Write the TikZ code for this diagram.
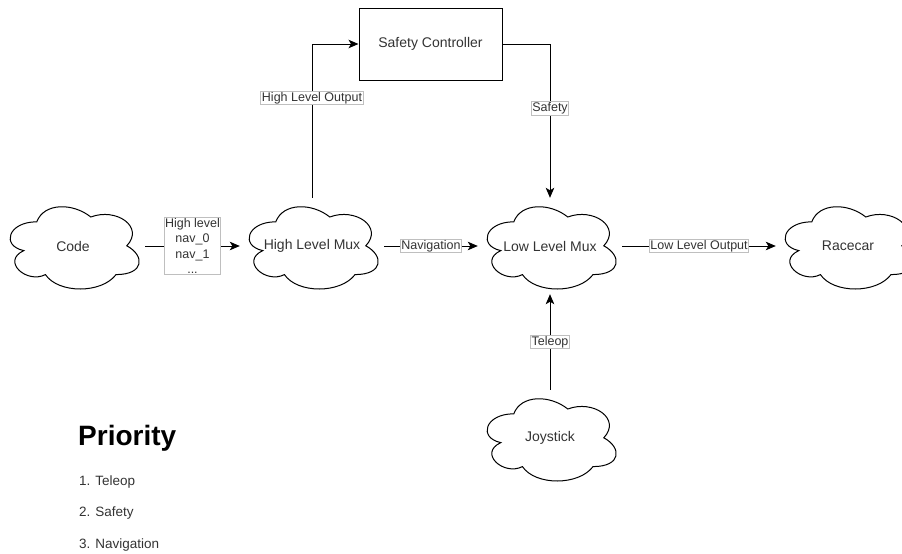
\documentclass[tikz,border=0pt]{standalone}
\usepackage{fontspec}
\setmainfont{Liberation Sans}
\usetikzlibrary{arrows.meta,positioning}

\tikzset{
  cloudbox/.style={rectangle, minimum width=144pt, minimum height=96pt, inner sep=0pt,
    font=\fontsize{14}{16}\selectfont, text=black!80},
  ctrlbox/.style={draw, rectangle, line width=1pt, minimum width=143pt, minimum height=72pt,
    font=\fontsize{14}{16}\selectfont, text=black!80},
  lbl/.style={draw=black!25, fill=white, inner sep=1pt, text=black!80,
    font=\fontsize{12.5}{15}\selectfont},
  link/.style={-{Stealth[length=10pt,width=8.5pt,inset=2.5pt]}, line width=1pt},
  listitem/.style={anchor=west, inner sep=0pt, text=black!80, font=\fontsize{13.5}{16}\selectfont},
  puff/.pic={
    \draw[line width=1pt] (0.25,0.25) .. controls (0.05,0.25) and (0,0.5) .. (0.16,0.55)
      .. controls (0,0.66) and (0.18,0.9) .. (0.31,0.8)
      .. controls (0.4,1) and (0.7,1) .. (0.8,0.8)
      .. controls (1,0.8) and (1,0.6) .. (0.875,0.5)
      .. controls (1,0.3) and (0.8,0.1) .. (0.625,0.2)
      .. controls (0.5,0.05) and (0.3,0.05) .. (0.25,0.25) -- cycle;
  }
}

\begin{document}
\begin{tikzpicture}[x=1pt,y=-1pt]
  \useasboundingbox (0,0) rectangle (902,554);

  \node[cloudbox] (code) at (73,246) {Code};             % source
  \node[cloudbox] (hmux) at (312,246) {High Level Mux};
  \node[cloudbox] (lmux) at (550,246) {Low Level Mux};
  \node[cloudbox] (car) at (848,246) {Racecar};
  \node[cloudbox] (joy) at (550,438) {Joystick};
  \node[ctrlbox] (safe) at (430.5,44) {Safety Controller}; % controller box

  \foreach \n in {code,hmux,lmux,car,joy}
    \pic[xscale=144,yscale=96] at (\n.north west) {puff};  % cloud outlines

  \draw[link] (code.east) --
     node[lbl, align=center, font=\fontsize{12.5}{15.5}\selectfont]{High level\\nav\_0\\nav\_1\\...} (hmux.west);
  \draw[link] (hmux.north) |- node[lbl, pos=0.325]{High Level Output} (safe.west);
  \draw[link] (safe.east) -| node[lbl, pos=0.71]{Safety} (lmux.north);
  \draw[link] (hmux.east) -- node[lbl]{Navigation} (lmux.west);
  \draw[link] (lmux.east) -- node[lbl]{Low Level Output} (car.west);
  \draw[link] (joy.north) -- node[lbl]{Teleop} (lmux.south);

  % priority list
  \node[anchor=west, inner sep=0pt, font=\bfseries\fontsize{28}{32}\selectfont] (prio) at (78,438) {Priority};
  \node[listitem] (p1) at (79,482) {1. Teleop};
  \node[listitem] (p2) at (79,513) {2. Safety};
  \node[listitem] (p3) at (79,545) {3. Navigation};
\end{tikzpicture}
\end{document}
